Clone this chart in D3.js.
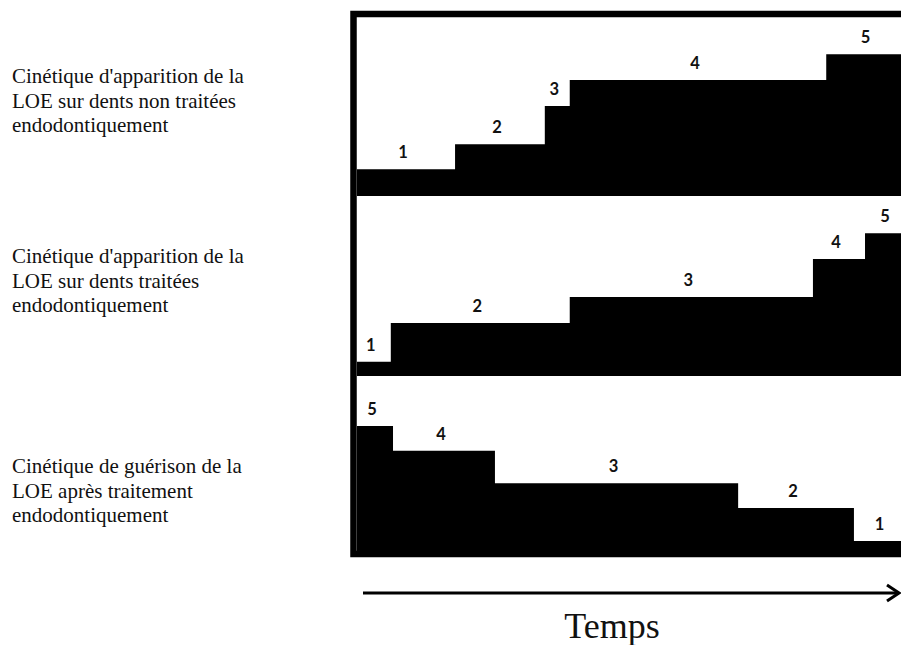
<!DOCTYPE html>
<html>
<head>
<meta charset="utf-8">
<script src="https://cdn.jsdelivr.net/npm/d3@7"></script>
<style>
  body { margin: 0; background: #fff; }
  svg { display: block; }
</style>
</head>
<body>
<div id="chart"></div>
<script>
// Step boundaries on the time axis (0-100) and level of each step (0-100 of the panel height)
const panelTitles = [
  ["Cinétique d'apparition de la", "LOE sur dents non traitées", "endodontiquement"],
  ["Cinétique d'apparition de la", "LOE sur dents traitées", "endodontiquement"],
  ["Cinétique de guérison de la", "LOE après traitement", "endodontiquement"]
];
const stepStarts = [
  [0, 17.7, 33.9, 38.4, 84.7],
  [0, 6.1, 38.4, 82.3, 91.7],
  [0, 6.5, 24.9, 68.8, 89.7]
];
const stepLevels = [
  [14.9, 28.9, 50.3, 64.8, 79.2],
  [8.0, 29.6, 44.1, 65.4, 79.7],
  [72.6, 58.8, 40.6, 26.8, 8.4]
];
const stepLabels = [
  ["1", "2", "3", "4", "5"],
  ["1", "2", "3", "4", "5"],
  ["5", "4", "3", "2", "1"]
];
const timeEnd = 100;
const axisLabel = "Temps";

const width = 901, height = 645;
const svg = d3.select('#chart').append('svg')
  .attr('width', width)
  .attr('height', height);

// time scale, runs past the right edge like the cropped original
const x = d3.scaleLinear().domain([0, timeEnd]).range([357, 911]);

const panelTop = i => 17 + i * 180;
const panelH = 179;
const titleBase = [83, 263, 473];

stepStarts.forEach((starts, i) => {
  const y = d3.scaleLinear().domain([0, 100]).range([panelTop(i) + panelH, panelTop(i)]);
  const steps = starts.map((s, k) => ({
    x0: s,
    x1: k < starts.length - 1 ? starts[k + 1] : timeEnd,
    v: stepLevels[i][k],
    label: stepLabels[i][k]
  }));

  const g = svg.append('g').attr('class', 'panel');

  // filled step area
  const area = d3.area()
    .curve(d3.curveStepAfter)
    .x(d => x(d.t))
    .y0(y(0))
    .y1(d => y(d.v));
  const pts = steps.map(d => ({ t: d.x0, v: d.v }));
  pts.push({ t: timeEnd, v: steps[steps.length - 1].v });
  g.append('path')
    .datum(pts)
    .attr('d', area)
    .attr('fill', '#000');

  // step numbers
  g.selectAll('text.step')
    .data(steps)
    .enter().append('text')
    .attr('class', 'step')
    .attr('x', d => (x(d.x0) + x(d.x1)) / 2 - 3)
    .attr('y', d => y(d.v) - 11)
    .attr('text-anchor', 'middle')
    .attr('font-family', 'Lato, "Open Sans", sans-serif')
    .attr('font-weight', 'bold')
    .attr('font-size', 16.5)
    .attr('fill', '#111')
    .text(d => d.label);

  // description on the left
  svg.append('text')
    .attr('x', 12)
    .attr('y', titleBase[i])
    .attr('font-family', '"Liberation Serif", "Times New Roman", serif')
    .attr('font-size', 21)
    .attr('fill', '#111')
    .selectAll('tspan')
    .data(panelTitles[i])
    .enter().append('tspan')
    .attr('x', 12)
    .attr('dy', (d, k) => k === 0 ? 0 : 24.5)
    .text(d => d);
});

// outer frame
svg.append('rect')
  .attr('x', 353.5)
  .attr('y', 14)
  .attr('width', 700)
  .attr('height', 540)
  .attr('fill', 'none')
  .attr('stroke', '#000')
  .attr('stroke-width', 6.5);

// time arrow
svg.append('line')
  .attr('x1', 363).attr('y1', 593)
  .attr('x2', 899).attr('y2', 593)
  .attr('stroke', '#000')
  .attr('stroke-width', 3);
svg.append('path')
  .attr('d', 'M887,585 L899,593 L887,601')
  .attr('fill', 'none')
  .attr('stroke', '#000')
  .attr('stroke-width', 3);

svg.append('text')
  .attr('x', 612)
  .attr('y', 638)
  .attr('text-anchor', 'middle')
  .attr('font-family', '"Liberation Serif", "Times New Roman", serif')
  .attr('font-size', 36)
  .attr('fill', '#111')
  .text(axisLabel);
</script>
</body>
</html>
